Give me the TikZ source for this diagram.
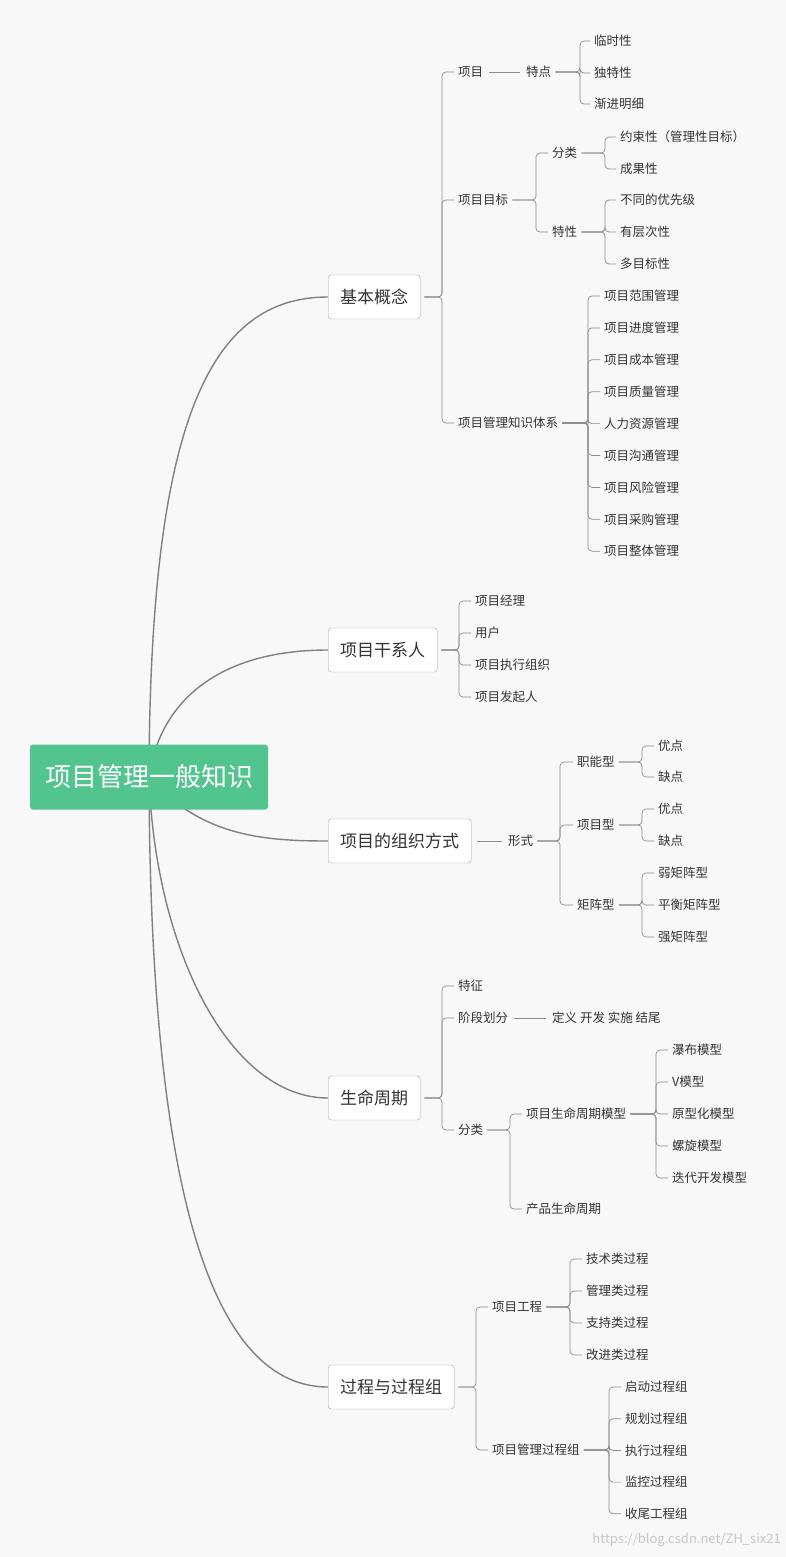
\documentclass[tikz,border=0pt]{standalone}
\usepackage{fontspec}
\setmainfont{Noto Sans CJK SC}
\usetikzlibrary{backgrounds}
\definecolor{bgc}{HTML}{F8F8F8}
\definecolor{lnc}{HTML}{8C8C8C}
\definecolor{main}{HTML}{808080}
\definecolor{grn}{HTML}{52C48E}
\definecolor{txt}{HTML}{333333}
\tikzset{
 leaf/.style={anchor=west,inner sep=0pt,font=\fontsize{12.5}{14}\selectfont,text=txt},
 lvl/.style={anchor=west,draw=lnc!80,fill=white,rounded corners=3pt,minimum height=44pt,inner xsep=12pt,font=\fontsize{17}{19}\selectfont,text=txt},
 conn/.style={draw=lnc,line width=0.7pt},
 bigc/.style={draw=main,line width=1.4pt}
}
\newcommand{\br}[3]{\path (#2,0) coordinate (bxc);
 \draw[conn,rounded corners=4pt] ([xshift=4pt]#1.east) -- (bxc |- #1.east) -- (bxc |- #3.west) -- ([xshift=-4pt]#3.west);}
\newcommand{\st}[2]{\draw[conn] ([xshift=6pt]#1.east) -- ([xshift=-6pt]#2.west);}
\begin{document}
\begin{tikzpicture}[x=1pt,y=-1pt]
\useasboundingbox (0,0) rectangle (786,1557);
\node[fill=grn,rounded corners=3pt,minimum width=238pt,minimum height=65pt,text=white,font=\fontsize{26}{28}\selectfont] (root) at (149,777) {项目管理一般知识};
\node[lvl] (A) at (328,297) {基本概念};
\node[lvl] (B) at (328,650) {项目干系人};
\node[lvl] (C) at (328,841) {项目的组织方式};
\node[lvl] (D) at (328,1098) {生命周期};
\node[lvl] (E) at (328,1387) {过程与过程组};
\begin{scope}[on background layer]
\fill[bgc] (0,0) rectangle (786,1557);
\draw[bigc] (root.center) .. controls (150,420) and (210,297) .. (A.west);
\draw[bigc] (root.center) .. controls (160,700) and (220,650) .. (B.west);
\draw[bigc] (root.center) .. controls (200,835) and (260,841) .. (C.west);
\draw[bigc] (root.center) .. controls (155,950) and (230,1098) .. (D.west);
\draw[bigc] (root.center) .. controls (150,1150) and (200,1387) .. (E.west);
\end{scope}
% A
\node[leaf] (a1) at (458,72) {项目};
\node[leaf] (a11) at (526,72) {特点};
\node[leaf] (a111) at (594,41) {临时性};
\node[leaf] (a112) at (594,73) {独特性};
\node[leaf] (a113) at (594,104) {渐进明细};
\node[leaf] (a2) at (458,200) {项目目标};
\node[leaf] (a21) at (552,153) {分类};
\node[leaf] (a22) at (552,232) {特性};
\node[leaf] (a211) at (620,137) {约束性（管理性目标）};
\node[leaf] (a212) at (620,169) {成果性};
\node[leaf] (a221) at (620,200) {不同的优先级};
\node[leaf] (a222) at (620,232) {有层次性};
\node[leaf] (a223) at (620,264) {多目标性};
\node[leaf] (a3) at (458,423) {项目管理知识体系};
\foreach \t [count=\i] in {项目范围管理,项目进度管理,项目成本管理,项目质量管理,人力资源管理,项目沟通管理,项目风险管理,项目采购管理,项目整体管理}
 {\node[leaf] (k\i) at (604,{296+31.9*(\i-1)}) {\t};}
\br{A}{442}{a1}\br{A}{442}{a2}\br{A}{442}{a3}
\st{a1}{a11}
\br{a11}{580}{a111}\br{a11}{580}{a112}\br{a11}{580}{a113}
\br{a2}{536}{a21}\br{a2}{536}{a22}
\br{a21}{605}{a211}\br{a21}{605}{a212}
\br{a22}{605}{a221}\br{a22}{605}{a222}\br{a22}{605}{a223}
\foreach \i in {1,...,9}{\br{a3}{588}{k\i}}
% B
\node[leaf] (b1) at (475,601) {项目经理};
\node[leaf] (b2) at (475,633) {用户};
\node[leaf] (b3) at (475,665) {项目执行组织};
\node[leaf] (b4) at (475,697) {项目发起人};
\foreach \i in {1,...,4}{\br{B}{459}{b\i}}
% C
\node[leaf] (c0) at (508,841) {形式};
\st{C}{c0}
\node[leaf] (c1) at (577,762) {职能型};
\node[leaf] (c2) at (577,825) {项目型};
\node[leaf] (c3) at (577,905) {矩阵型};
\br{c0}{560}{c1}\br{c0}{560}{c2}\br{c0}{560}{c3}
\node[leaf] (c11) at (658,746) {优点};
\node[leaf] (c12) at (658,777) {缺点};
\node[leaf] (c21) at (658,809) {优点};
\node[leaf] (c22) at (658,841) {缺点};
\node[leaf] (c31) at (658,873) {弱矩阵型};
\node[leaf] (c32) at (658,905) {平衡矩阵型};
\node[leaf] (c33) at (658,937) {强矩阵型};
\br{c1}{642}{c11}\br{c1}{642}{c12}
\br{c2}{642}{c21}\br{c2}{642}{c22}
\br{c3}{642}{c31}\br{c3}{642}{c32}\br{c3}{642}{c33}
% D
\node[leaf] (d1) at (458,986) {特征};
\node[leaf] (d2) at (458,1018) {阶段划分};
\node[leaf] (d21) at (552,1018) {定义 开发 实施 结尾};
\node[leaf] (d3) at (458,1130) {分类};
\br{D}{442}{d1}\br{D}{442}{d2}\br{D}{442}{d3}
\st{d2}{d21}
\node[leaf] (d31) at (526,1114) {项目生命周期模型};
\node[leaf] (d32) at (526,1209) {产品生命周期};
\br{d3}{510}{d31}\br{d3}{510}{d32}
\foreach \t [count=\i] in {瀑布模型,V模型,原型化模型,螺旋模型,迭代开发模型}
 {\node[leaf] (m\i) at (672,{1050+32*(\i-1)}) {\t};}
\foreach \i in {1,...,5}{\br{d31}{656}{m\i}}
% E
\node[leaf] (e1) at (492,1307) {项目工程};
\node[leaf] (e2) at (492,1450) {项目管理过程组};
\br{E}{476}{e1}\br{E}{476}{e2}
\foreach \t [count=\i] in {技术类过程,管理类过程,支持类过程,改进类过程}
 {\node[leaf] (p\i) at (586,{1259+32*(\i-1)}) {\t};}
\foreach \i in {1,...,4}{\br{e1}{570}{p\i}}
\foreach \t [count=\i] in {启动过程组,规划过程组,执行过程组,监控过程组,收尾工程组}
 {\node[leaf] (g\i) at (625,{1387+31.7*(\i-1)}) {\t};}
\foreach \i in {1,...,5}{\br{e2}{609}{g\i}}
\node[anchor=east,inner sep=0pt,text=black!22,font=\fontsize{13}{15}\selectfont] (wm) at (781,1540) {https://blog.csdn.net/ZH\_six21};
\end{tikzpicture}
\end{document}
